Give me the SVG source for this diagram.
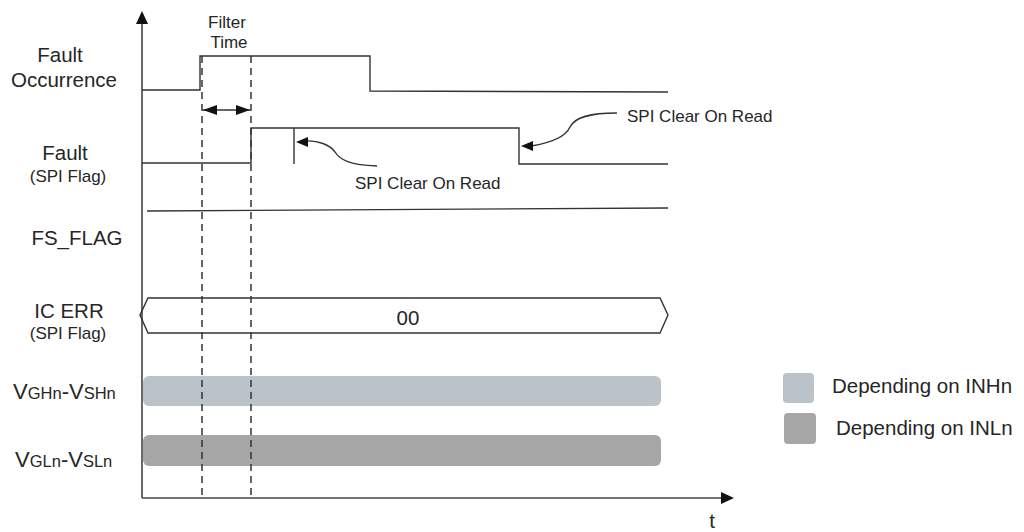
<svg xmlns="http://www.w3.org/2000/svg" width="1024" height="532" viewBox="0 0 1024 532">
<defs>
<style>
.lbl{font-family:"Liberation Sans",Arial,sans-serif;font-size:20.5px;fill:#262626}
.sm{font-family:"Liberation Sans",Arial,sans-serif;font-size:17px;fill:#262626}
.vl{font-family:"Liberation Sans",Arial,sans-serif;font-size:22px;fill:#262626}
.sig{fill:none;stroke:#333;stroke-width:1.4}
.dash{fill:none;stroke:#333;stroke-width:1.5;stroke-dasharray:7 5}
.axis{fill:none;stroke:#444;stroke-width:1.6}
.ah{fill:#111}
</style>
<marker id="arr" viewBox="0 0 14 10" refX="14" refY="5" markerWidth="14" markerHeight="10" markerUnits="userSpaceOnUse" orient="auto-start-reverse">
<path d="M0,0 L14,5 L0,10 Z" fill="#111"/>
</marker>
</defs>
<rect width="1024" height="532" fill="#fff"/>

<g id="axes">
<line class="axis" x1="142" y1="22" x2="142" y2="498"/>
<polygon class="ah" points="142,11 136,24 148,24"/>
<line class="axis" x1="142" y1="498" x2="722" y2="498"/>
<polygon class="ah" points="734,498 721,492 721,504"/>
<text class="lbl" x="712" y="528" text-anchor="middle">t</text>
</g>

<g id="labels">
<text class="lbl" x="60" y="62" text-anchor="middle">Fault</text>
<text class="lbl" x="64" y="87" text-anchor="middle">Occurrence</text>
<text class="lbl" x="65" y="160" text-anchor="middle">Fault</text>
<text class="sm" x="68" y="182" text-anchor="middle">(SPI Flag)</text>
<text class="lbl" x="77" y="245" text-anchor="middle">FS_FLAG</text>
<text class="lbl" x="69" y="318" text-anchor="middle">IC ERR</text>
<text class="sm" x="68" y="339" text-anchor="middle">(SPI Flag)</text>
<text class="vl" x="13" y="399">V<tspan font-size="16.5">GHn</tspan>-V<tspan font-size="16.5">SHn</tspan></text>
<text class="vl" x="15" y="467">V<tspan font-size="16.5">GLn</tspan>-V<tspan font-size="16.5">SLn</tspan></text>
</g>

<g id="fault-occurrence">
<polyline class="sig" points="142,90 200,90 200,56 370,56 370,91 668,92"/>
</g>

<g id="fault-spi-flag">
<polyline class="sig" points="142,163 251,163 251,128 519,128 519,164 668,164"/>
<line class="sig" x1="294" y1="128" x2="294" y2="164"/>
</g>

<g id="fs-flag">
<line class="sig" x1="147" y1="211" x2="668" y2="208"/>
</g>

<g id="ic-err">
<polygon class="sig" points="140,315 148,298 660,298 668,315 660,333 148,333"/>
<text class="lbl" x="408" y="325" text-anchor="middle">00</text>
</g>

<g id="vgh-bar">
<rect x="143" y="376" width="518" height="30" rx="6" fill="#b9c3c9"/>
</g>
<g id="vgl-bar">
<rect x="143" y="435" width="518" height="31" rx="6" fill="#a6a6a6"/>
</g>

<g id="filter-time">
<text class="sm" x="227" y="28" text-anchor="middle">Filter</text>
<text class="sm" x="229" y="48" text-anchor="middle">Time</text>
</g>

<g id="connectors">
<line class="dash" x1="202" y1="56" x2="202" y2="498"/>
<line class="dash" x1="251" y1="56" x2="251" y2="498"/>
<line class="sig" x1="203" y1="110" x2="250" y2="110" marker-start="url(#arr)" marker-end="url(#arr)"/>
<path class="sig" d="M377,166 C350,165 340,160 335,152 C330,145 318,140 305,141"/>
<polygon class="ah" points="296,142 308,137 308,147"/>
<path class="sig" d="M617,113 C590,113 575,117 570,127 C565,138 550,143 531,146"/>
<polygon class="ah" points="521,146 533,141 533,151"/>
</g>

<g id="callout-labels">
<text class="sm" x="355" y="189">SPI Clear On Read</text>
<text class="sm" x="627" y="122">SPI Clear On Read</text>
</g>

<g id="legend">
<rect x="783" y="373" width="31" height="30" rx="4" fill="#b9c3c9"/>
<text class="lbl" x="832" y="393" font-size="21">Depending on INHn</text>
<rect x="784" y="413" width="32" height="31" rx="4" fill="#a6a6a6"/>
<text class="lbl" x="836" y="435" font-size="21">Depending on INLn</text>
</g>
</svg>
